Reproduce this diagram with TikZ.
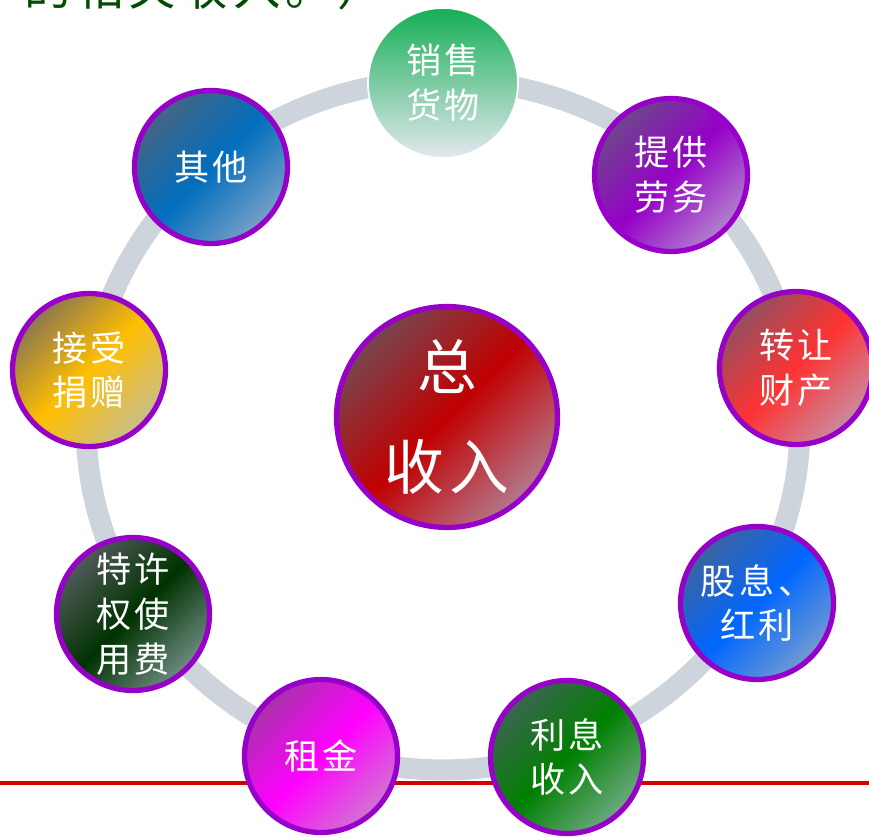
\documentclass[tikz,border=0pt]{standalone}
\usepackage{fontspec}
\newfontfamily\cjk[LetterSpace=10]{Noto Sans CJK SC}
\usepackage {tikz}
\usetikzlibrary {positioning}
\definecolor {ringpurple}{RGB}{150,0,200}
\definecolor {ringgray}{RGB}{205,212,220}
\definecolor {titlegreen}{RGB}{0,77,0}
\definecolor {lineRed}{RGB}{210,0,0}
\definecolor {goodsT}{RGB}{20,175,85}
\definecolor {goodsB}{RGB}{228,232,240}
\definecolor {serviceT}{RGB}{110,70,140}
\definecolor {serviceM}{RGB}{150,0,200}
\definecolor {serviceB}{RGB}{178,130,205}
\definecolor {propertyT}{RGB}{145,80,95}
\definecolor {propertyM}{RGB}{255,50,50}
\definecolor {propertyB}{RGB}{200,140,160}
\definecolor {dividendT}{RGB}{60,100,160}
\definecolor {dividendM}{RGB}{0,102,255}
\definecolor {dividendB}{RGB}{115,155,210}
\definecolor {interestT}{RGB}{60,100,80}
\definecolor {interestM}{RGB}{0,128,0}
\definecolor {interestB}{RGB}{110,170,130}
\definecolor {rentT}{RGB}{170,50,170}
\definecolor {rentM}{RGB}{255,0,255}
\definecolor {rentB}{RGB}{210,115,210}
\definecolor {royaltyT}{RGB}{80,90,90}
\definecolor {royaltyM}{RGB}{0,50,0}
\definecolor {royaltyB}{RGB}{110,140,130}
\definecolor {donationT}{RGB}{140,120,80}
\definecolor {donationM}{RGB}{255,190,0}
\definecolor {donationB}{RGB}{200,190,140}
\definecolor {otherT}{RGB}{70,100,130}
\definecolor {otherM}{RGB}{0,110,190}
\definecolor {otherB}{RGB}{120,160,200}
\definecolor {totalT}{RGB}{120,70,80}
\definecolor {totalM}{RGB}{192,0,0}
\definecolor {totalB}{RGB}{180,120,140}

\begin{document}
\begin{tikzpicture}[x=0.02cm,y=-0.02cm]
  \tikzstyle{income}=[circle, draw=ringpurple, line width=3pt, minimum size=3.06cm,
inner sep=0pt, align=center, text=white, font=\cjk\fontsize{20}{25.5}\selectfont]
  \tikzstyle{tilt}=[shading angle=45]
  \useasboundingbox (0,0) rectangle (869,837);
  \clip (0,0) rectangle (869,837);

  \node[anchor=base west, text=titlegreen, inner sep=0pt,
    font=\cjk\fontsize{27}{30}\selectfont] (title) at (24,6) {的相关收入。）};
  \coordinate (L_1) at (0,783);
  \coordinate (L_2) at (869,783);
  \draw[lineRed, line width=2.2pt] (L_1) -- (L_2);

  \coordinate (O) at (443,425);
  \draw[ringgray, line width=0.42cm] (O) ellipse [x radius=7.14cm, y radius=6.9cm];

  \node[income, draw=white, line width=1pt, minimum size=3cm,
    top color=goodsT, bottom color=goodsB] (I_1) at (443,83) {销售\\货物};
  \node[income, top color=serviceT, bottom color=serviceB, middle color=serviceM, tilt] (I_2) at (671,175) {提供\\劳务};
  \node[income, top color=propertyT, bottom color=propertyB, middle color=propertyM, tilt] (I_3) at (796,368) {转让\\财产};
  \node[income, top color=dividendT, bottom color=dividendB, middle color=dividendM, tilt] (I_4) at (757,603) {股息、\\红利};
  \node[income, top color=interestT, bottom color=interestB, middle color=interestM, tilt] (I_5) at (567,757) {利息\\收入};
  \node[income, top color=rentT, bottom color=rentB, middle color=rentM, tilt] (I_6) at (321,756) {租金};
  \node[income, top color=royaltyT, bottom color=royaltyB, middle color=royaltyM, tilt] (I_7) at (133,614) {特许\\权使\\用费};
  \node[income, top color=donationT, bottom color=donationB, middle color=donationM, tilt] (I_8) at (89,370) {接受\\捐赠};
  \node[income, top color=otherT, bottom color=otherB, middle color=otherM, tilt] (I_9) at (211,167) {其他};

  \node[income, minimum size=4.42cm, font=\cjk\fontsize{34}{57}\selectfont,
    top color=totalT, bottom color=totalB, middle color=totalM, tilt] (T) at (447,417) {总\\收入};
\end{tikzpicture}
\end{document}
